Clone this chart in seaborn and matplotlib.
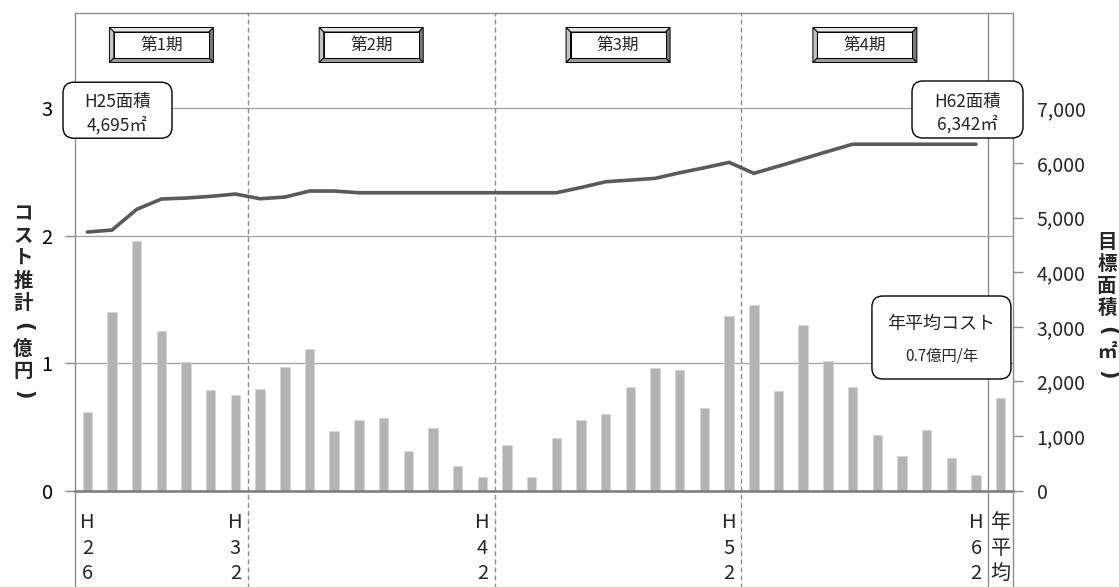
import numpy as np
import pandas as pd
import matplotlib
matplotlib.use("Agg")
import matplotlib.pyplot as plt
import matplotlib.transforms as mtransforms
from matplotlib.patches import Polygon, FancyBboxPatch
import seaborn as sns

# ---- data -------------------------------------------------------------
years = [f"H{y}" for y in range(26, 63)]
cost = [0.615, 1.40, 1.96, 1.25, 1.01, 0.79, 0.75,
        0.795, 0.97, 1.11, 0.47, 0.555, 0.57, 0.315, 0.49, 0.195, 0.105,
        0.36, 0.105, 0.41, 0.555, 0.60, 0.81, 0.965, 0.945, 0.645, 1.37,
        1.46, 0.785, 1.30, 1.015, 0.81, 0.44, 0.27, 0.475, 0.26, 0.125]
area = [4735, 4771, 5150, 5339, 5357, 5388, 5430,
        5344, 5375, 5485, 5485, 5454, 5454, 5454, 5454, 5454, 5454,
        5454, 5454, 5454, 5550, 5655, 5686, 5717, 5820, 5911, 6010,
        5809, 5940, 6075, 6210, 6342, 6342, 6342, 6342, 6342, 6342]
avg_cost = 0.73
avg_label = "年平均"
base_area = 4695
final_area = 6342
periods = ["第1期", "第2期", "第3期", "第4期"]
period_ranges = [(0, 6), (7, 16), (17, 26), (27, 36)]
labeled_years = ["H26", "H32", "H42", "H52", "H62"]

# ---- style ------------------------------------------------------------
sns.set_theme(style="white")
plt.rcParams['font.family'] = ['Noto Sans CJK JP', 'DejaVu Sans']

W, H = 1119, 587
fig = plt.figure(figsize=(W / 100, H / 100), dpi=100)
ax = fig.add_axes([75 / W, (H - 490.7) / H, 938 / W, 477.4 / H])

GRAY = "#8c8c8c"
BAR = "#b3b3b3"
LINE = "#5a5a5a"

categories = years + [avg_label]
df = pd.DataFrame({"cat": categories, "cost": cost + [avg_cost]})
sns.barplot(data=df, x="cat", y="cost", order=categories, color=BAR,
            saturation=1, width=0.38, edgecolor="#d6d6d6", linewidth=0.6,
            ax=ax, zorder=2)

ax.set_xlim(-0.5, len(categories) - 0.5)
ymax = 3.745
ax.set_ylim(0, ymax)
ax.set_yticks([0, 1, 2, 3])
ax.set_yticklabels(["0", "1", "2", "3"], fontsize=14.5)
ax.grid(axis="y", color="#a6a6a6", lw=1.0, zorder=0)
ax.grid(axis="x", visible=False)
ax.set_axisbelow(True)
ax.tick_params(axis="y", length=7, width=1, color=GRAY, pad=9, direction="out",
               left=True, labelcolor="black")
ax.set_xlabel("")
ax.set_ylabel("")

for s in ["left", "top", "right"]:
    ax.spines[s].set_color(GRAY)
    ax.spines[s].set_linewidth(1.0)
ax.spines["bottom"].set_color("#7a7a7a")
ax.spines["bottom"].set_linewidth(1.8)

# bottom category labels, one character per row
idx_of = {c: i for i, c in enumerate(categories)}
ax.set_xticks([])
for lab in labeled_years + [avg_label]:
    i = idx_of[lab]
    for k, ch in enumerate(lab):
        ax.annotate(ch, xy=(i, 0), xycoords=("data", "axes fraction"),
                    xytext=(0, -(32 + 25.5 * k)), textcoords="offset pixels",
                    ha="center", va="center", fontsize=14.5, annotation_clip=False)

# period separators and the average column divider
blend = mtransforms.blended_transform_factory(ax.transData, ax.transAxes)
for b in [6.5, 16.5, 26.5]:
    ax.plot([b, b], [-0.25, 1], transform=blend, color=GRAY, lw=1.0,
            ls=(0, (3.6, 2.2)), clip_on=False, zorder=1)
ax.plot([36.5, 36.5], [-0.25, 1], transform=blend, color=GRAY, lw=1.0,
        clip_on=False, zorder=3)
for b in [-0.5, len(categories) - 0.5]:
    ax.plot([b, b], [-0.25, 0], transform=blend, color=GRAY, lw=1.0,
            clip_on=False, zorder=3)

# target floor area line on the secondary axis
ax2 = ax.twinx()
sns.lineplot(x=np.arange(len(area)), y=area, ax=ax2, color=LINE,
             linewidth=2.6, solid_joinstyle="miter")
ax2.set_ylim(0, ymax * 7000 / 3)
ax2.set_yticks(np.arange(0, 8000, 1000))
ax2.set_yticklabels([f"{v:,}" for v in range(0, 8000, 1000)], fontsize=14)
ax2.tick_params(axis="y", length=7, width=1, color=GRAY, pad=10, direction="out",
                right=True)
ax2.set_ylabel("")
ax2.grid(False)
for s in ax2.spines.values():
    s.set_visible(False)


# vertical axis titles (stacked characters; brackets turned for vertical writing)
def stacked_title(xpx, ytop, step, chars):
    for k, ch in enumerate(chars):
        if ch in "()":
            fig.text(xpx / W, 1 - (ytop + step * k) / H, ch, ha="center",
                     va="center", fontsize=15, fontweight="bold", rotation=-90,
                     family="DejaVu Sans")
        else:
            fig.text(xpx / W, 1 - (ytop + step * k) / H, ch, ha="center",
                     va="center", fontsize=14, fontweight="bold")


stacked_title(23, 213.5, 22.6, list("コスト推計(億円)"))
stacked_title(1107, 242.5, 22.1, list("目標面積(㎡)"))


def px_frame(x, y, base):
    """Transform with pixel/100 (inch) offsets around an anchor point."""
    return fig.dpi_scale_trans + mtransforms.ScaledTranslation(x, y, base)


# period header buttons
pblend = mtransforms.blended_transform_factory(ax.transData, ax.transAxes)
bw, bh, bev = 1.04 / 2, 0.35 / 2, 0.045
for name, (a, b) in zip(periods, period_ranges):
    cx = (a + b) / 2
    tr = px_frame(cx, 0.9336, pblend)
    ox0, ox1, oy0, oy1 = -bw, bw, -bh, bh
    ix0, ix1, iy0, iy1 = -bw + bev, bw - bev, -bh + bev, bh - bev
    faces = [
        ([(ox0, oy1), (ox1, oy1), (ix1, iy1), (ix0, iy1)], "#e4e4e4"),
        ([(ox0, oy0), (ox0, oy1), (ix0, iy1), (ix0, iy0)], "#c4c4c4"),
        ([(ox1, oy0), (ox1, oy1), (ix1, iy1), (ix1, iy0)], "#7a7a7a"),
        ([(ox0, oy0), (ox1, oy0), (ix1, iy0), (ix0, iy0)], "#9a9a9a"),
        ([(ix0, iy0), (ix1, iy0), (ix1, iy1), (ix0, iy1)], "white"),
    ]
    for verts, fc in faces:
        ax2.add_patch(Polygon(verts, closed=True, facecolor=fc, edgecolor="black",
                              lw=0.7, transform=tr, clip_on=False, zorder=10))
    ax2.text(0, 0, name, transform=tr, ha="center", va="center", fontsize=12,
             zorder=11)


def rounded_note(xa, ya, w, h, lines, sizes, offsets):
    tr = px_frame(xa, ya, ax.transAxes)
    ax2.add_patch(FancyBboxPatch((-w / 2, -h / 2), w, h,
                                 boxstyle="round,pad=0,rounding_size=0.11",
                                 facecolor="white", edgecolor="black", lw=1.0,
                                 transform=tr, clip_on=False, zorder=10))
    for txt, fs, off in zip(lines, sizes, offsets):
        ax2.text(0, off, txt, transform=tr, ha="center", va="center",
                 fontsize=fs, zorder=11)


rounded_note(0.0453, 0.797, 1.09, 0.56,
             ["H25面積", f"{base_area:,}㎡"], [12.5, 12.5], [0.08, -0.15])
rounded_note(0.9515, 0.7985, 1.11, 0.57,
             ["H62面積", f"{final_area:,}㎡"], [12.5, 12.5], [0.08, -0.15])
rounded_note(0.9237, 0.3209, 1.39, 0.83,
             ["年平均コスト", f"{avg_cost:.1f}億円/年"], [13, 11], [0.135, -0.185])

fig.savefig("out.png", dpi=100)
